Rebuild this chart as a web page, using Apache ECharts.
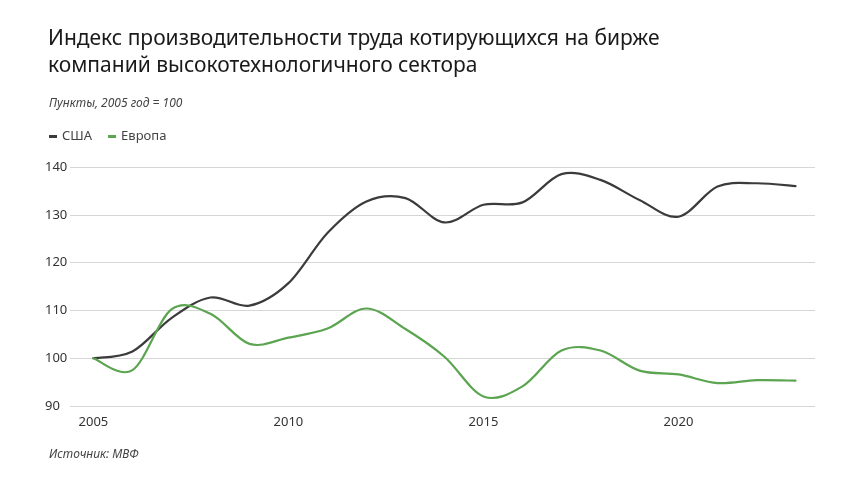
<!DOCTYPE html>
<html><head><meta charset="utf-8">
<script src="https://cdn.jsdelivr.net/npm/echarts@6/dist/echarts.min.js"></script>
<style>html,body{margin:0;padding:0;background:#fff}#c{width:860px;height:484px}</style>
</head><body><div id="c"></div>
<script>
const years = [2005,2006,2007,2008,2009,2010,2011,2012,2013,2014,2015,2016,2017,2018,2019,2020,2021,2022,2023];
const usa = [100,101.4,108.4,112.7,111.0,115.7,126.2,132.8,133.5,128.4,132.1,132.6,138.5,137.3,133.1,129.6,135.9,136.6,136.0];
const europe = [100,97.5,110.2,109.3,103.0,104.3,106.2,110.4,106.1,100.3,92.0,94.1,101.6,101.6,97.4,96.6,94.8,95.4,95.3];
const xTickLabels = [2005,2010,2015,2020];
const yTicks = [90,100,110,120,130,140];
const seriesNames = ['США','Европа'];
const seriesColors = ['#3b3b3b','#5ba450'];
const titleText = 'Индекс производительности труда котирующихся на бирже\nкомпаний высокотехнологичного сектора';
const subtitleText = 'Пункты, 2005 год = 100';
const sourceText = 'Источник: МВФ';

const chart = echarts.init(document.getElementById('c'), null, {renderer:'canvas'});
const FONT = 'Noto Sans';

// Catmull-Rom smooth path through the data, positioned by the chart's own axes
function makeRender(values, color){
  return function(params, api){
    if (params.dataIndex !== 0) return null;
    const pts = years.map((y,i)=>api.coord([y, values[i]]));
    let d = 'M' + pts[0][0] + ' ' + pts[0][1];
    for (let i=0;i<pts.length-1;i++){
      const p0 = pts[Math.max(i-1,0)], p1 = pts[i], p2 = pts[i+1], p3 = pts[Math.min(i+2,pts.length-1)];
      const c1 = [p1[0]+(p2[0]-p0[0])/6, p1[1]+(p2[1]-p0[1])/6];
      const c2 = [p2[0]-(p3[0]-p1[0])/6, p2[1]-(p3[1]-p1[1])/6];
      d += ' C' + c1[0]+' '+c1[1]+' '+c2[0]+' '+c2[1]+' '+p2[0]+' '+p2[1];
    }
    return {type:'path', shape:{pathData:d},
      style:{fill:'none', stroke:color, lineWidth:2.2, lineCap:'round', lineJoin:'round'}};
  };
}

chart.setOption({
  animation:false,
  backgroundColor:'#fff',
  title:[
    {text:titleText,left:43,top:21,textStyle:{fontFamily:FONT,fontSize:21,fontWeight:'normal',color:'#1a1a1a',lineHeight:27}},
    {text:subtitleText,left:44,top:93,textStyle:{fontFamily:FONT,fontSize:12,fontStyle:'italic',fontWeight:'normal',color:'#444'}},
    {text:sourceText,left:44,top:444,textStyle:{fontFamily:FONT,fontSize:12,fontStyle:'italic',fontWeight:'normal',color:'#444'}}
  ],
  legend:{left:44,top:125,icon:'rect',itemWidth:8,itemHeight:3,itemGap:16,
    textStyle:{fontFamily:FONT,fontSize:13,color:'#444'},data:seriesNames},
  grid:{left:70,right:45,top:167,bottom:78},
  xAxis:{type:'value',min:2004.4,max:2023.5,
    axisLine:{show:false},axisTick:{show:false},splitLine:{show:false},
    axisLabel:{customValues:xTickLabels,formatter:v=>String(v),margin:10,
      fontFamily:FONT,fontSize:13,color:'#333'}},
  yAxis:{type:'value',min:yTicks[0],max:yTicks[yTicks.length-1],interval:10,
    axisLine:{show:false},axisTick:{show:false},
    splitLine:{lineStyle:{color:'#d6d6d6',width:1}},
    axisLabel:{align:'left',margin:25,verticalAlign:'middle',padding:[0,0,8,0],
      fontFamily:FONT,fontSize:13,color:'#333'}},
  series:[
    {name:seriesNames[0],type:'custom',renderItem:makeRender(usa,seriesColors[0]),
      data:years.map((y,i)=>[y,usa[i]]),itemStyle:{color:seriesColors[0]},encode:{x:0,y:1}},
    {name:seriesNames[1],type:'custom',renderItem:makeRender(europe,seriesColors[1]),
      data:years.map((y,i)=>[y,europe[i]]),itemStyle:{color:seriesColors[1]},encode:{x:0,y:1}}
  ]
});
</script></body></html>
